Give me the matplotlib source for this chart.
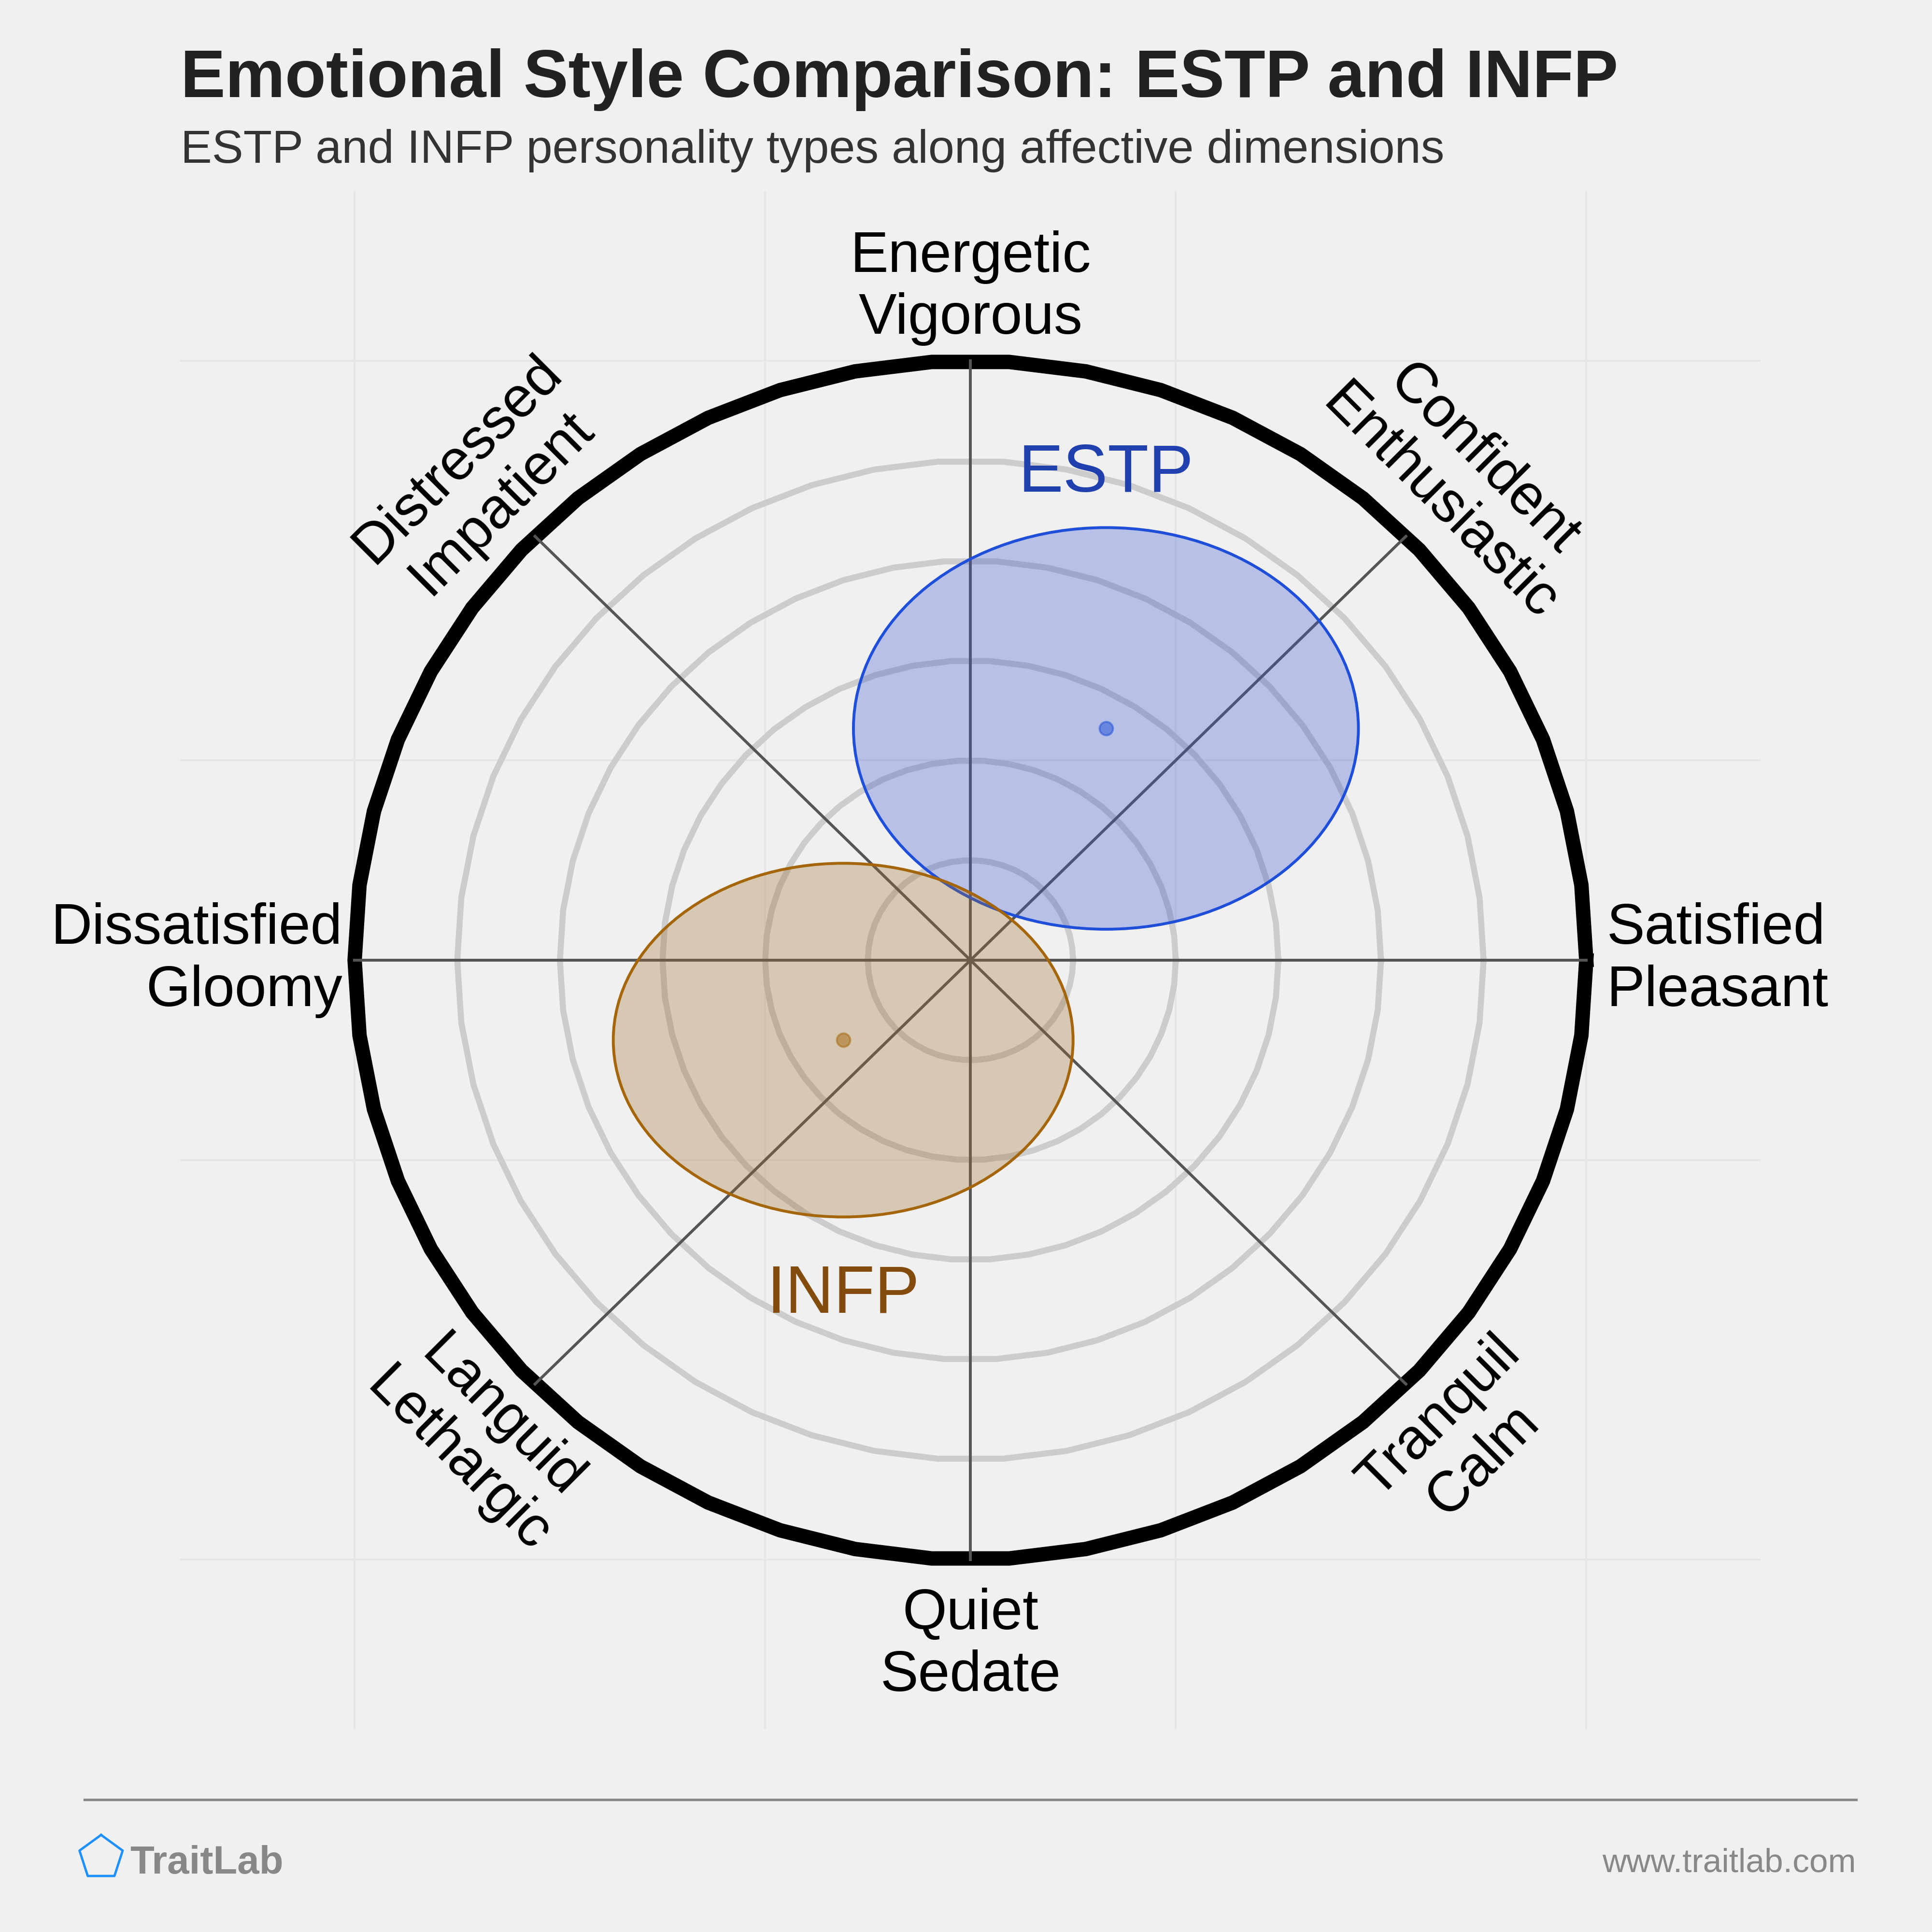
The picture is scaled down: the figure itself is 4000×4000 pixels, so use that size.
import numpy as np
import matplotlib
matplotlib.use("Agg")
import matplotlib.pyplot as plt
from matplotlib.patches import Ellipse
from matplotlib.lines import Line2D

plt.rcParams['font.family'] = ['Liberation Sans', 'DejaVu Sans']

# ---------------- data ----------------
types = ["ESTP", "INFP"]
centers_x = [0.66, -0.62]
centers_y = [1.16, -0.40]
widths = [2.46, 2.24]
heights = [2.01, 1.77]
edge_colors = ["#1f4fd8", "#a5650a"]
face_colors = ["#3553d5", "#a06e28"]
text_colors = ["#2040ae", "#844c0c"]
label_y = [2.345, -1.764]

axis_angles = [90, 45, 0, 315, 270, 225, 180, 135]
axis_labels = ["Energetic\nVigorous", "Confident\nEnthusiastic", "Satisfied\nPleasant",
               "Tranquil\nCalm", "Quiet\nSedate", "Languid\nLethargic",
               "Dissatisfied\nGloomy", "Distressed\nImpatient"]
ring_radii = [0.5, 1.0, 1.5, 2.0, 2.5]
outer_radius = 3.0
grid_ticks = [-3, -1, 1, 3]

title = "Emotional Style Comparison: ESTP and INFP"
subtitle = "ESTP and INFP personality types along affective dimensions"

# ---------------- figure ----------------
BG = "#f0f0f0"
fig = plt.figure(figsize=(16, 16), dpi=250, facecolor=BG)
ax = fig.add_axes([0.09325, 0.10483, 0.8181, 0.79635])
ax.set_facecolor(BG)
lim = 3.85
ax.set_xlim(-lim, lim)
ax.set_ylim(-lim, lim)
ax.set_xticks(grid_ticks)
ax.set_yticks(grid_ticks)
ax.grid(True, color="#e6e6e6", lw=1.2, zorder=0)
ax.set_axisbelow(True)
ax.tick_params(length=0, labelbottom=False, labelleft=False)
for s in ax.spines.values():
    s.set_visible(False)

theta = np.linspace(0, 2 * np.pi, 51)
for r in ring_radii:
    ax.plot(r * np.cos(theta), r * np.sin(theta), color="#cccccc", lw=3.6, zorder=1,
            solid_joinstyle="miter")
ax.plot(outer_radius * np.cos(theta), outer_radius * np.sin(theta), color="black",
        lw=8.6, zorder=2, solid_joinstyle="miter")

# spokes
for ang in [0, 45, 90, 135]:
    a = np.deg2rad(ang)
    ax.plot([-outer_radius * np.cos(a), outer_radius * np.cos(a)],
            [-outer_radius * np.sin(a), outer_radius * np.sin(a)],
            color="#555555", lw=1.7, zorder=3)

# axis labels
for ang, lab in zip(axis_angles, axis_labels):
    a = np.deg2rad(ang)
    lab_r = {90: 3.075, 270: 3.14, 180: 3.06}.get(ang, 3.1)
    x, y = lab_r * np.cos(a), lab_r * np.sin(a)
    kw = dict(fontsize=34, color="black", zorder=6)
    if ang == 90:
        ax.text(x, y, lab, ha="center", va="bottom", multialignment="center", **kw)
    elif ang == 270:
        ax.text(x, y, lab, ha="center", va="top", multialignment="center", **kw)
    elif ang == 0:
        ax.text(x, y, lab, ha="left", va="center", multialignment="left", **kw)
    elif ang == 180:
        ax.text(x, y, lab, ha="right", va="center", multialignment="right", **kw)
    else:
        upper = np.sin(a) > 0
        rot = ang - 90 if upper else ang - 270
        ax.text(x, y, lab, ha="center", va="bottom" if upper else "top",
                multialignment="center", rotation=rot, rotation_mode="anchor", **kw)

# ellipses
for i, t in enumerate(types):
    e = Ellipse((centers_x[i], centers_y[i]), widths[i], heights[i],
                facecolor=face_colors[i], alpha=0.3, edgecolor="none", zorder=4 + i * 0.1)
    ax.add_patch(e)
    e2 = Ellipse((centers_x[i], centers_y[i]), widths[i], heights[i],
                 facecolor="none", edgecolor=edge_colors[i], lw=1.7, zorder=4.05 + i * 0.1)
    ax.add_patch(e2)
    ax.plot(centers_x[i], centers_y[i], "o", ms=8, color=edge_colors[i], alpha=0.5,
            mew=1.2, zorder=5)
    ax.text(centers_x[i], label_y[i], t, ha="center", va="baseline", fontsize=40,
            color=text_colors[i], zorder=6)

# titles
fig.text(0.0935, 0.9498, title, fontsize=40, fontweight="bold", color="#222222",
         ha="left", va="baseline")
fig.text(0.0935, 0.9158, subtitle, fontsize=28, color="#333333", ha="left", va="baseline")

# footer
fig.add_artist(Line2D([0.04375, 0.96075], [0.06857, 0.06857], transform=fig.transFigure,
                      color="#888888", lw=1.5))
pc_x, pc_y, pr = 209.3 / 4000, 1 - 3846 / 4000, 47 / 4000
pang = np.deg2rad(90 + 72 * np.arange(6))
fig.add_artist(Line2D(pc_x + pr * np.cos(pang), pc_y + pr * np.sin(pang),
                      transform=fig.transFigure, color="#1e90ff", lw=1.4,
                      solid_joinstyle="round"))
fig.text(0.0672, 0.03025, "TraitLab", fontsize=23.5, fontweight="bold", color="#888888",
         ha="left", va="baseline")
fig.text(0.9608, 0.03125, "www.traitlab.com", fontsize=20, color="#888888",
         ha="right", va="baseline")

fig.savefig("out.png", dpi=250, facecolor=BG)
